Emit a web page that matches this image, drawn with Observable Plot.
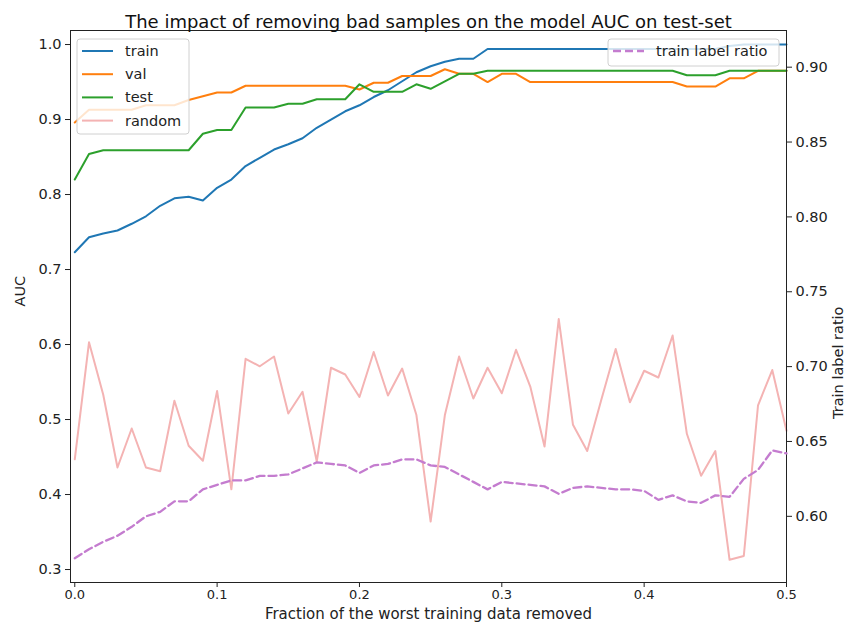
<!DOCTYPE html>
<html>
<head>
<meta charset="utf-8">
<script src="https://cdn.jsdelivr.net/npm/d3@7"></script>
<script src="https://cdn.jsdelivr.net/npm/@observablehq/plot@0.6"></script>
<style>
  html, body { margin: 0; padding: 0; background: white; }
  #chart { position: relative; width: 850px; height: 630px; }
  #chart svg { position: absolute; left: 0; top: 0; }
</style>
</head>
<body>
<div id="chart"></div>
<script>
// Fraction of the worst training data removed
const fractions = [0, 0.01, 0.02, 0.03, 0.04, 0.05, 0.06, 0.07, 0.08, 0.09,
  0.10, 0.11, 0.12, 0.13, 0.14, 0.15, 0.16, 0.17, 0.18, 0.19,
  0.20, 0.21, 0.22, 0.23, 0.24, 0.25, 0.26, 0.27, 0.28, 0.29,
  0.30, 0.31, 0.32, 0.33, 0.34, 0.35, 0.36, 0.37, 0.38, 0.39,
  0.40, 0.41, 0.42, 0.43, 0.44, 0.45, 0.46, 0.47, 0.48, 0.49, 0.50];

// AUC per split
const train = [0.723, 0.743, 0.748, 0.752, 0.761, 0.771, 0.785, 0.795, 0.797, 0.792,
  0.809, 0.820, 0.838, 0.849, 0.860, 0.867, 0.875, 0.889, 0.900, 0.911,
  0.919, 0.930, 0.939, 0.951, 0.963, 0.971, 0.977, 0.981, 0.981, 0.994,
  0.994, 0.994, 0.994, 0.994, 0.994, 0.994, 0.994, 0.994, 0.994, 0.994,
  0.994, 0.994, 0.994, 0.994, 0.994, 0.994, 0.998, 1.000, 1.000, 1.000, 1.000];
const val = [0.896, 0.913, 0.913, 0.913, 0.913, 0.919, 0.919, 0.919, 0.926, 0.931,
  0.936, 0.936, 0.945, 0.945, 0.945, 0.945, 0.945, 0.945, 0.945, 0.945,
  0.940, 0.949, 0.949, 0.958, 0.958, 0.958, 0.967, 0.961, 0.961, 0.950,
  0.961, 0.961, 0.950, 0.950, 0.950, 0.950, 0.950, 0.950, 0.950, 0.950,
  0.950, 0.950, 0.950, 0.944, 0.944, 0.944, 0.955, 0.955, 0.965, 0.965, 0.965];
const test = [0.820, 0.854, 0.859, 0.859, 0.859, 0.859, 0.859, 0.859, 0.859, 0.881,
  0.886, 0.886, 0.916, 0.916, 0.916, 0.921, 0.921, 0.927, 0.927, 0.927,
  0.947, 0.937, 0.937, 0.937, 0.947, 0.941, 0.951, 0.961, 0.961, 0.965,
  0.965, 0.965, 0.965, 0.965, 0.965, 0.965, 0.965, 0.965, 0.965, 0.965,
  0.965, 0.965, 0.965, 0.959, 0.959, 0.959, 0.965, 0.965, 0.965, 0.965, 0.965];
const random = [0.447, 0.603, 0.533, 0.436, 0.488, 0.436, 0.431, 0.525, 0.465, 0.445,
  0.538, 0.407, 0.581, 0.571, 0.584, 0.508, 0.537, 0.444, 0.569, 0.560,
  0.530, 0.590, 0.532, 0.568, 0.506, 0.364, 0.506, 0.584, 0.528, 0.569,
  0.535, 0.593, 0.544, 0.464, 0.634, 0.493, 0.458, 0.527, 0.594, 0.523,
  0.565, 0.556, 0.612, 0.481, 0.425, 0.458, 0.313, 0.318, 0.519, 0.566, 0.485];

// Share of positive labels left in the training set (right axis)
const trainLabelRatio = [0.572, 0.578, 0.583, 0.587, 0.593, 0.600, 0.603, 0.610, 0.610, 0.618,
  0.621, 0.624, 0.624, 0.627, 0.627, 0.628, 0.632, 0.636, 0.635, 0.634,
  0.629, 0.634, 0.635, 0.638, 0.638, 0.634, 0.633, 0.628, 0.623, 0.618,
  0.623, 0.622, 0.621, 0.620, 0.615, 0.619, 0.620, 0.619, 0.618, 0.618,
  0.617, 0.611, 0.614, 0.610, 0.609, 0.614, 0.613, 0.625, 0.631, 0.644, 0.642];

const xTicks = [0, 0.1, 0.2, 0.3, 0.4, 0.5];
const aucTicks = [0.3, 0.4, 0.5, 0.6, 0.7, 0.8, 0.9, 1.0];
const ratioTicks = [0.60, 0.65, 0.70, 0.75, 0.80, 0.85, 0.90];

const series = [
  {name: "train", values: train, color: "#1f77b4"},
  {name: "val", values: val, color: "#ff7f0e"},
  {name: "test", values: test, color: "#2ca02c"},
  {name: "random", values: random, color: "#f4b3b3"}
];
const ratioSeries = {name: "train label ratio", values: trainLabelRatio, color: "#c47ccf"};

const rows = series.flatMap(s => s.values.map((v, i) => ({frac: fractions[i], auc: v, name: s.name})));
const ratioRows = trainLabelRatio.map((v, i) => ({frac: fractions[i], ratio: v}));

const font = "DejaVu Sans, Liberation Sans, sans-serif";
const W = 850, H = 630;
const margins = {marginTop: 30, marginBottom: 48, marginLeft: 70, marginRight: 64};
const xDomain = [-0.003, 0.5];

const base = Plot.plot({
  width: W, height: H, ...margins,
  style: {fontFamily: font, background: "white", color: "#222"},
  x: {domain: xDomain},
  y: {domain: [0.2827, 1.0187]},
  color: {domain: series.map(s => s.name), range: series.map(s => s.color)},
  marks: [
    Plot.line(rows, {x: "frac", y: "auc", z: "name", stroke: "name", strokeWidth: 2}),
    Plot.frame({stroke: "#222", strokeWidth: 1}),
    // x axis: tick marks, then their labels set a little lower
    Plot.axisX({ticks: xTicks, tickSize: 5, text: null, label: null}),
    Plot.text(xTicks, {x: d => d, text: d => d.toFixed(1), frameAnchor: "bottom", dy: 16, fontSize: 13, fill: "#222"}),
    Plot.axisY({ticks: aucTicks, tickFormat: d => d.toFixed(1), tickSize: 5, tickPadding: 4, fontSize: 14.5, label: null}),
    Plot.text(["The impact of removing bad samples on the model AUC on test-set"],
      {frameAnchor: "top", dy: -15, fontSize: 18, fill: "#111"}),
    Plot.text(["Fraction of the worst training data removed"],
      {frameAnchor: "bottom", dy: 36, fontSize: 15, fill: "#222"}),
    Plot.text(["AUC"], {frameAnchor: "left", dx: -50, rotate: -90, fontSize: 14.5, fill: "#222"})
  ]
});

const overlay = Plot.plot({
  width: W, height: H, ...margins,
  style: {fontFamily: font, background: "transparent", color: "#222"},
  x: {domain: xDomain, axis: null},
  y: {domain: [0.5558, 0.9245]},
  marks: [
    Plot.line(ratioRows, {x: "frac", y: "ratio", stroke: ratioSeries.color, strokeWidth: 2.3, strokeDasharray: "8,4"}),
    Plot.axisY({anchor: "right", ticks: ratioTicks, tickFormat: d => d.toFixed(2), tickSize: 5, tickPadding: 4, fontSize: 14.5, label: null}),
    Plot.text(["Train label ratio"], {frameAnchor: "right", dx: 52, rotate: -90, fontSize: 14.5, fill: "#222"})
  ]
});

// Legends: boxed keys in the two upper corners
function legend(svg, box, entries) {
  const g = d3.select(svg).append("g")
    .attr("font-family", font).attr("font-size", 14.5).attr("text-anchor", "start");
  g.append("rect")
    .attr("x", box.x).attr("y", box.y).attr("width", box.w).attr("height", box.h)
    .attr("rx", 3).attr("fill", "white").attr("fill-opacity", 0.8)
    .attr("stroke", "#d0d0d0").attr("stroke-width", 1);
  entries.forEach((e, i) => {
    const cy = box.y + 12 + i * 23.2;
    g.append("line")
      .attr("x1", box.x + 5).attr("x2", box.x + 36).attr("y1", cy).attr("y2", cy)
      .attr("stroke", e.color).attr("stroke-width", e.dash ? 2.3 : 2)
      .attr("stroke-dasharray", e.dash || null);
    g.append("text")
      .attr("x", box.x + 48).attr("y", cy).attr("dy", "0.35em")
      .attr("text-anchor", "start")
      .attr("fill", "#222").text(e.name);
  });
}
legend(overlay, {x: 77, y: 39, w: 112, h: 95}, series);
legend(overlay, {x: 608, y: 39, w: 171, h: 27}, [{...ratioSeries, dash: "8,4"}]);

const chart = document.getElementById("chart");
chart.appendChild(base);
chart.appendChild(overlay);
</script>
</body>
</html>
